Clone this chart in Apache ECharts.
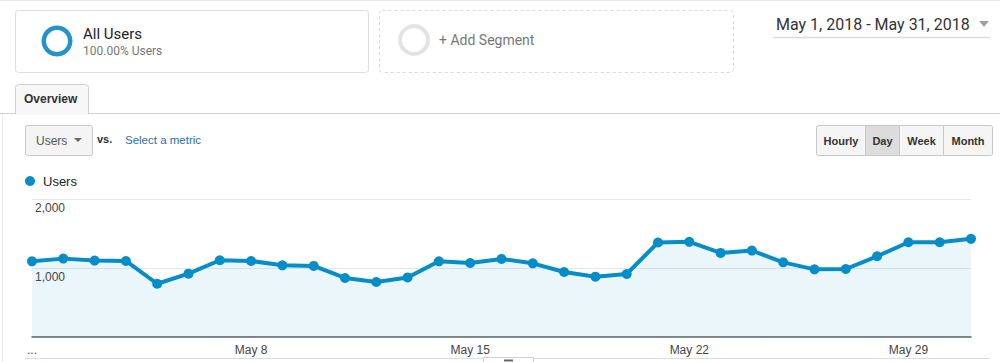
<!DOCTYPE html>
<html>
<head>
<meta charset="utf-8">
<script src="https://cdn.jsdelivr.net/npm/echarts@6/dist/echarts.min.js"></script>
<style>
html,body{margin:0;padding:0;background:#fff;}
#c{width:1000px;height:362px;}
</style>
</head>
<body>
<div id="c"></div>
<script>
// ---- data ----
const categories = ['May 1','May 2','May 3','May 4','May 5','May 6','May 7','May 8','May 9','May 10',
  'May 11','May 12','May 13','May 14','May 15','May 16','May 17','May 18','May 19','May 20',
  'May 21','May 22','May 23','May 24','May 25','May 26','May 27','May 28','May 29','May 30','May 31'];
const users = [1095,1134,1105,1100,769,915,1110,1100,1037,1028,
  853,794,861,1095,1071,1130,1066,940,872,911,
  1368,1378,1217,1251,1080,978,983,1168,1372,1372,1422];
const shownTickLabels = {'May 1':'...','May 8':'May 8','May 15':'May 15','May 22':'May 22','May 29':'May 29'};
const yTicks = [0,1000,2000];
const seriesName = 'Users';
const segmentTitle = 'All Users';
const segmentSub = '100.00% Users';
const dateRange = 'May 1, 2018 - May 31, 2018';
const periodButtons = ['Hourly','Day','Week','Month'];

const BLUE = '#058dc7';
const chart = echarts.init(document.getElementById('c'), null, {renderer:'svg'});

const btnX = [816,865,899,943,992];
const buttons = periodButtons.map((b,i)=>({
  type:'group',
  children:[
    {type:'rect', shape:{x:btnX[i]+0.5,y:125.5,width:btnX[i+1]-btnX[i],height:30,r:(i===0?[2,0,0,2]:(i===3?[0,2,2,0]:0))},
     style:{fill: b==='Day' ? '#dcdcdc' : '#f5f5f5', stroke:'#c8c8c8', lineWidth:1}},
    {type:'text', x:(btnX[i]+btnX[i+1])/2+0.5, y:140.5,
     style:{text:b, fill:'#333', font:'bold 11px "Liberation Sans", Arial, sans-serif', textAlign:'center', textVerticalAlign:'middle'}}
  ]
}));

const graphics = [
  {type:'line', shape:{x1:0,y1:0.5,x2:1000,y2:0.5}, style:{stroke:'#e6e6e6',lineWidth:1}},
  // segment box
  {type:'rect', shape:{x:15.5,y:10.5,width:353,height:62,r:3}, style:{fill:'#fff',stroke:'#dedede',lineWidth:1}},
  {type:'ring', shape:{cx:57,cy:41,r:15.5,r0:11}, style:{fill:'#2493c9'}},
  {type:'text', x:83, y:34, style:{text:segmentTitle, fill:'#222', font:'15px Roboto, sans-serif', textVerticalAlign:'middle'}},
  {type:'text', x:83, y:51, style:{text:segmentSub, fill:'#777', font:'12px Roboto, sans-serif', textVerticalAlign:'middle'}},
  // add segment box
  {type:'rect', shape:{x:379.5,y:10.5,width:354,height:62,r:3}, style:{fill:'#fff',stroke:'#d8d8d8',lineWidth:1,lineDash:[3,3]}},
  {type:'ring', shape:{cx:414,cy:40,r:16,r0:12}, style:{fill:'#e3e3e3'}},
  {type:'text', x:439, y:40, style:{text:'+ Add Segment', fill:'#777', font:'14px Roboto, sans-serif', textVerticalAlign:'middle'}},
  // date range
  {type:'text', x:776, y:24, style:{text:dateRange, fill:'#333', font:'16px Roboto, sans-serif', textVerticalAlign:'middle'}},
  {type:'polygon', shape:{points:[[979,21],[989,21],[984,27]]}, style:{fill:'#a0a0a0'}},
  {type:'line', shape:{x1:773,y1:37.5,x2:990,y2:37.5}, style:{stroke:'#dcdcdc',lineWidth:1.5}},
  // tab line
  {type:'line', shape:{x1:0,y1:113.5,x2:1000,y2:113.5}, style:{stroke:'#cfcfcf',lineWidth:1}},
  {type:'rect', shape:{x:15.5,y:84.5,width:73,height:29.5,r:[3,3,0,0]}, style:{fill:'#f7f7f7',stroke:'#cfcfcf',lineWidth:1}},
  {type:'rect', shape:{x:16,y:112,width:72,height:3}, style:{fill:'#f7f7f7'}},
  {type:'text', x:24, y:99, style:{text:'Overview', fill:'#333', font:'bold 12px "Liberation Sans", Arial, sans-serif', textVerticalAlign:'middle'}},
  {type:'line', shape:{x1:2.5,y1:114,x2:2.5,y2:362}, style:{stroke:'#ececec',lineWidth:1}},
  // metric dropdown
  {type:'rect', shape:{x:25.5,y:125.5,width:67,height:30,r:2}, style:{fill:'#f4f4f4',stroke:'#c8c8c8',lineWidth:1}},
  {type:'text', x:36, y:140.5, style:{text:'Users', fill:'#555', font:'12px "Liberation Sans", Arial, sans-serif', textVerticalAlign:'middle'}},
  {type:'polygon', shape:{points:[[74,138],[82,138],[78,142]]}, style:{fill:'#666'}},
  {type:'text', x:97, y:139, style:{text:'vs.', fill:'#333', font:'bold 11px "Liberation Sans", Arial, sans-serif', textVerticalAlign:'middle'}},
  {type:'text', x:125, y:140, style:{text:'Select a metric', fill:'#2d6ca8', font:'11.5px "Liberation Sans", Arial, sans-serif', textVerticalAlign:'middle'}},
  // legend
  {type:'circle', shape:{cx:30,cy:181,r:5}, style:{fill:BLUE}},
  {type:'text', x:43, y:181.5, style:{text:seriesName, fill:'#222', font:'13px "Liberation Sans", Arial, sans-serif', textVerticalAlign:'middle'}},
  // bottom border and handle
  {type:'line', shape:{x1:25,y1:358.5,x2:990,y2:358.5}, style:{stroke:'#dcdcdc',lineWidth:1}},
  {type:'rect', shape:{x:483.5,y:357.5,width:50,height:8}, style:{fill:'#fff',stroke:'#d0d0d0',lineWidth:1}},
  {type:'rect', shape:{x:504,y:359.5,width:9,height:2}, style:{fill:'#666'}}
].concat(buttons);

const yBase = {
  type:'value', min:yTicks[0], max:yTicks[yTicks.length-1], interval:yTicks[1]-yTicks[0],
  axisLine:{show:false}, axisTick:{show:false}
};

chart.setOption({
  animation:false,
  graphic: graphics,
  grid:{left:32, right:29, top:199, bottom:25.3},
  xAxis:{
    type:'category', data:categories, boundaryGap:false, z:6,
    axisLine:{lineStyle:{color:'#5f6368',width:1.5}},
    axisTick:{show:false},
    axisLabel:{
      interval:(idx,val)=>shownTickLabels.hasOwnProperty(val),
      formatter:(val)=>shownTickLabels[val]||'',
      color:'#444', fontSize:12, fontFamily:'"Liberation Sans", Arial, sans-serif', margin:7
    },
    splitLine:{show:false}
  },
  yAxis:[
    Object.assign({}, yBase, {
      z:0,
      axisLabel:{show:false},
      splitLine:{lineStyle:{color:'#e8e8e8',width:1}}
    }),
    Object.assign({}, yBase, {
      position:'left', z:10,
      splitLine:{show:false},
      axisLabel:{inside:true, margin:3, verticalAlign:'top', padding:[3,0,0,0], showMinLabel:false,
        formatter:(v)=>v.toLocaleString('en-US'),
        color:'#444', fontSize:12, fontFamily:'"Liberation Sans", Arial, sans-serif'}
    })
  ],
  series:[{
    name:seriesName, type:'line', data:users, yAxisIndex:0,
    symbol:'circle', symbolSize:10, showSymbol:true,
    lineStyle:{color:BLUE,width:4},
    itemStyle:{color:BLUE},
    areaStyle:{color:'rgba(5,141,199,0.11)'},
    z:3
  }]
});
</script>
</body>
</html>
